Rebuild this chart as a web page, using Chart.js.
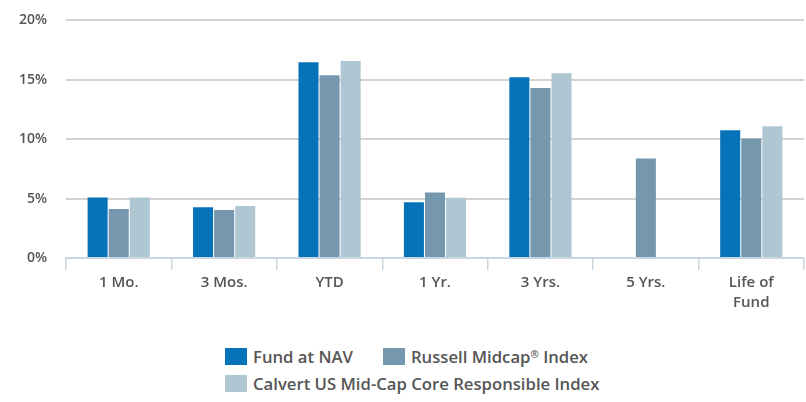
<!DOCTYPE html>
<html>
<head>
<meta charset="utf-8">
<script src="https://cdn.jsdelivr.net/npm/chart.js@4"></script>
<style>
    body { margin: 0; background: #fff; }
    .wrap { position: relative; width: 806px; height: 402px; overflow: hidden; }
    .chart-box { position: absolute; left: 0; top: -7px; width: 806px; height: 337px; }
    .legend {
        position: absolute; left: 225px; top: 347px; width: 420px;
        display: flex; flex-wrap: wrap; column-gap: 30px; row-gap: 8px;
        font: 600 16.7px "Open Sans", sans-serif; color: #555;
    }
    .legend-item { display: flex; align-items: center; height: 19px; white-space: nowrap; }
    .legend-item sup { font-size: 10px; vertical-align: 5px; line-height: 0; }
    .legend-swatch { width: 22px; height: 17px; margin-right: 6px; }
</style>
</head>
<body>
<div class="wrap">
    <div class="chart-box"><canvas id="returns-chart"></canvas></div>
    <div class="legend" id="legend"></div>
</div>
<script>
const periods = ['1 Mo.', '3 Mos.', 'YTD', '1 Yr.', '3 Yrs.', '5 Yrs.', ['Life of', 'Fund']];
const fundNav = [5.1, 4.27, 16.47, 4.7, 15.21, null, 10.76];
const russellMidcap = [4.12, 4.03, 15.38, 5.52, 14.31, 8.37, 10.06];
const calvertIndex = [5.1, 4.37, 16.58, 5.07, 15.55, null, 11.09];
const yTicks = [0, 5, 10, 15, 20];

const seriesNames = ['Fund at NAV', 'Russell Midcap® Index', 'Calvert US Mid-Cap Core Responsible Index'];
const seriesColors = ['#0672b8', '#7598ae', '#afc6d3'];

const labelColor = '#555';
const axisColor = '#c8d5e2';

const datasets = [fundNav, russellMidcap, calvertIndex].map((data, i) => ({
    label: seriesNames[i],
    data: data,
    backgroundColor: seriesColors[i],
    categoryPercentage: 0.6,
    barPercentage: 0.95
}));

new Chart(document.getElementById('returns-chart'), {
    type: 'bar',
    data: { labels: periods, datasets: datasets },
    options: {
        responsive: true,
        maintainAspectRatio: false,
        animation: false,
        layout: { padding: { top: 13, right: 2, left: 0, bottom: 0 } },
        plugins: {
            legend: { display: false },
            tooltip: { enabled: false }
        },
        scales: {
            x: {
                afterFit: (scale) => { scale.height = 72; },
                grid: {
                    offset: true,
                    drawOnChartArea: false,
                    drawTicks: true,
                    tickLength: 12,
                    color: axisColor,
                    lineWidth: 1.5
                },
                border: { color: axisColor, width: 2 },
                ticks: {
                    color: labelColor,
                    padding: 3,
                    font: { family: 'Open Sans', weight: '600', size: 15, lineHeight: 1.3 }
                }
            },
            y: {
                min: 0,
                max: 20,
                afterFit: (scale) => { scale.width = 66; },
                afterBuildTicks: (scale) => { scale.ticks = yTicks.map(v => ({ value: v })); },
                grid: { color: '#d2d2d2', lineWidth: 2, drawTicks: false },
                border: { display: false },
                ticks: {
                    color: labelColor,
                    padding: 19,
                    font: { family: 'Open Sans', weight: '600', size: 14 },
                    callback: (value) => value + '%'
                }
            }
        }
    }
});

// legend laid out as two rows under the plot
const legend = document.getElementById('legend');
seriesNames.forEach((name, i) => {
    const item = document.createElement('div');
    item.className = 'legend-item';
    const text = name.replace('®', '<sup>®</sup>');
    item.innerHTML = `<span class="legend-swatch" style="background:${seriesColors[i]}"></span><span>${text}</span>`;
    legend.appendChild(item);
});
</script>
</body>
</html>
